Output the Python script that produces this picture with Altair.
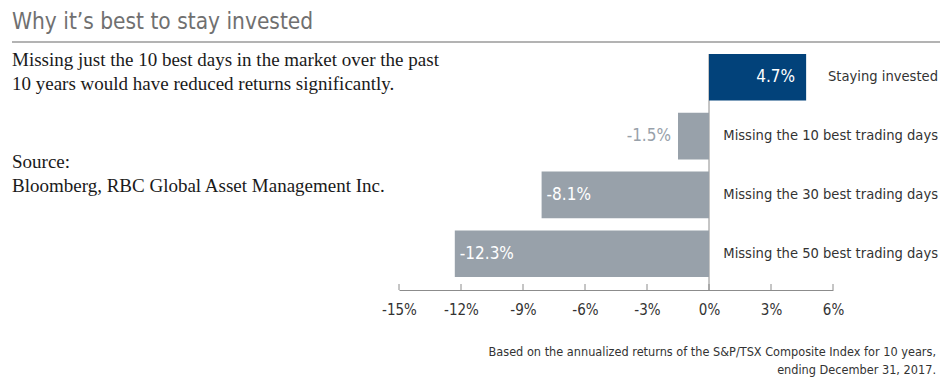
import altair as alt
import pandas as pd

categories = ["Staying invested", "Missing the 10 best trading days",
              "Missing the 30 best trading days", "Missing the 50 best trading days"]
values = [4.7, -1.5, -8.1, -12.3]
ticks = [-15, -12, -9, -6, -3, 0, 3, 6]

title_text = "Why it\u2019s best to stay invested"
body_lines = ["Missing just the 10 best days in the market over the past",
              "10 years would have reduced returns significantly."]
source_lines = ["Source:", "Bloomberg, RBC Global Asset Management Inc."]
note_lines = ["Based on the annualized returns of the S&P/TSX Composite Index for 10 years,",
              "ending December 31, 2017."]

df = pd.DataFrame({"category": categories, "value": values})

W, H = 434, 249
NAVY = "#02427a"
GRAY = "#98a1aa"
SANS = "Liberation Sans Narrow, DejaVu Sans Condensed, Roboto, sans-serif"
SERIF = "Liberation Serif, DejaVu Serif, serif"

yscale = alt.Scale(domain=categories, paddingInner=0.207, paddingOuter=0.22)
xscale = alt.Scale(domain=[-15, 6], nice=False, zero=False)

base = alt.Chart(df)

zero_rule = alt.Chart(pd.DataFrame({"v": [0]})).mark_rule(color="#8c8c8c", strokeWidth=1).encode(
    x=alt.X("v:Q", scale=xscale), y=alt.value(13), y2=alt.value(H))

bars = base.mark_bar().encode(
    x=alt.X("value:Q", scale=xscale,
            axis=alt.Axis(values=ticks, labelExpr="datum.value + '%'", tickSize=0,
                          grid=False, domainColor="#8c8c8c", domainWidth=1,
                          labelFont=SANS, labelFontSize=15, labelColor="#333333",
                          labelPadding=12, labelFlush=False, labelOverlap=False,
                          title=None)),
    x2=alt.datum(0),
    y=alt.Y("category:N", scale=yscale, axis=None, sort=categories),
    color=alt.condition("datum.value > 0", alt.value(NAVY), alt.value(GRAY)),
)

tick_marks = alt.Chart(pd.DataFrame({"t": ticks})).mark_rule(color="#8c8c8c", strokeWidth=1).encode(
    x=alt.X("t:Q", scale=xscale), y=alt.value(H - 6), y2=alt.value(H))

lab = base.transform_calculate(label="datum.value + '%'")
pos_labels = lab.transform_filter("datum.value > 0").mark_text(
    align="right", baseline="middle", dx=-11, color="white", font=SANS, fontSize=17).encode(
    x=alt.X("value:Q", scale=xscale), y=alt.Y("category:N", scale=yscale, sort=categories),
    text="label:N")
out_labels = lab.transform_filter("datum.value <= 0 && datum.value > -3").mark_text(
    align="right", baseline="middle", dx=-7, color=GRAY, font=SANS, fontSize=17).encode(
    x=alt.X("value:Q", scale=xscale), y=alt.Y("category:N", scale=yscale, sort=categories),
    text="label:N")
in_labels = lab.transform_filter("datum.value <= -3").mark_text(
    align="left", baseline="middle", dx=5, color="white", font=SANS, fontSize=17).encode(
    x=alt.X("value:Q", scale=xscale), y=alt.Y("category:N", scale=yscale, sort=categories),
    text="label:N")

cat_labels = base.mark_text(align="right", baseline="middle", color="#333333",
                            font=SANS, fontSize=14.6).encode(
    x=alt.value(539), y=alt.Y("category:N", scale=yscale, sort=categories), text="category:N")


def txt(s, x, y, **kw):
    return alt.Chart(pd.DataFrame({"t": [s]})).mark_text(baseline="middle", **kw).encode(
        x=alt.value(x), y=alt.value(y), text="t:N")


title = txt(title_text, -387, -19, align="left", font=SANS, fontSize=22.5, color="#707070")
top_rule = alt.Chart(pd.DataFrame({"a": [0]})).mark_rule(color="#9a9a9a", strokeWidth=1.5).encode(
    x=alt.value(-387), x2=alt.value(560), y=alt.value(1))
body = [txt(s, -387, y, align="left", font=SERIF, fontSize=19, color="#1a1a1a")
        for s, y in zip(body_lines + source_lines, [19, 43, 121, 145])]
notes = [txt(s, 537, y, align="right", font=SANS, fontSize=12.6, color="#333333")
         for s, y in zip(note_lines, [311, 329])]

chart = alt.layer(zero_rule, bars, tick_marks, pos_labels, out_labels, in_labels, cat_labels,
                  title, top_rule, *body, *notes).properties(
    width=W, height=H,
    autosize=alt.AutoSizeParams(type="none"),
    padding={"left": 391, "top": 33, "right": 107, "bottom": 88},
).configure_view(stroke=None)

chart.save("out.html", embed_options={"renderer": "svg", "actions": False})
